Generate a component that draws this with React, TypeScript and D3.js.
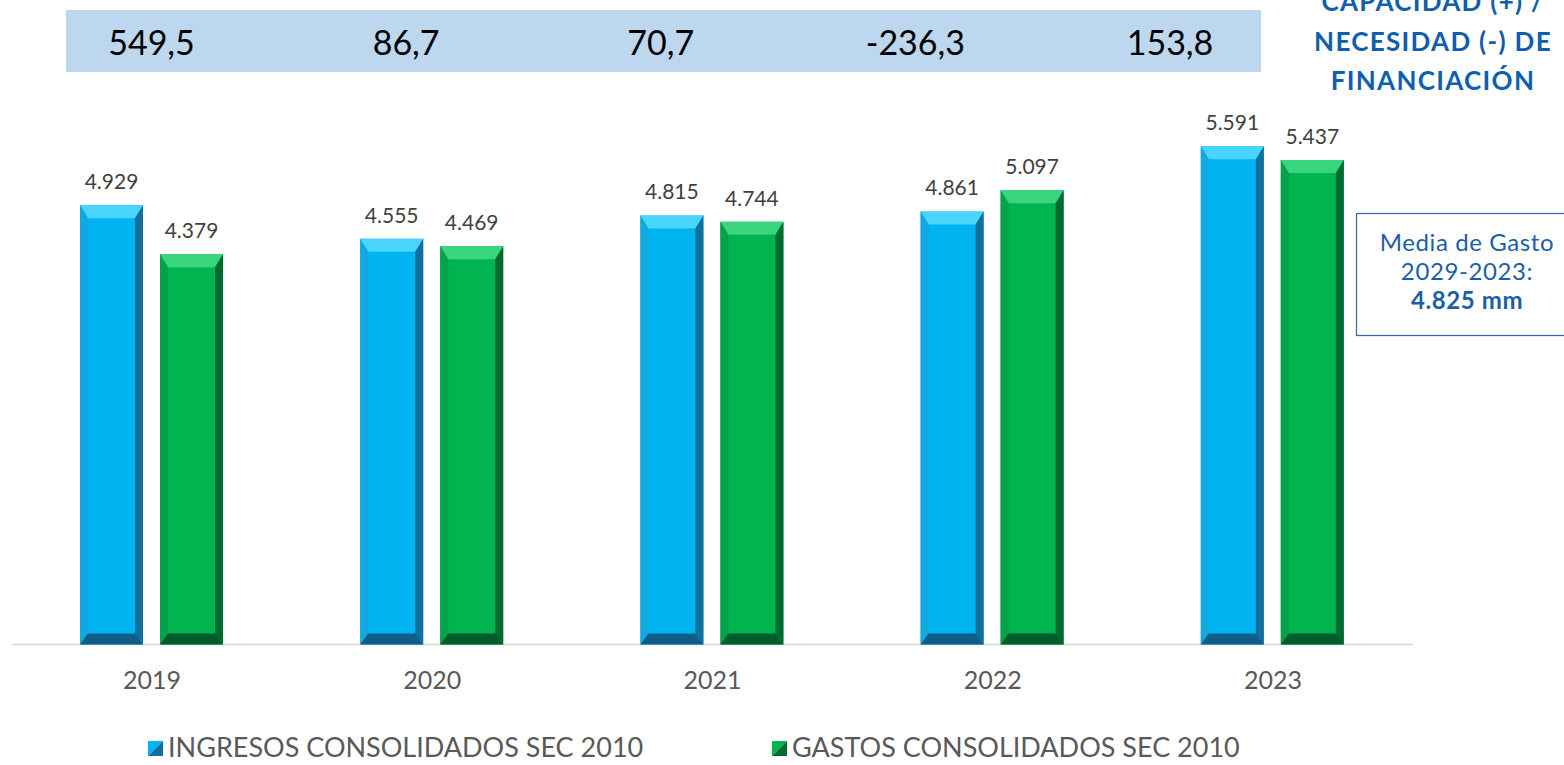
import React, { useRef, useEffect } from 'react';
import * as d3 from 'd3';

// chart data
const years = ['2019', '2020', '2021', '2022', '2023'];
const ingresos = [4929, 4555, 4815, 4861, 5591];
const gastos = [4379, 4469, 4744, 5097, 5437];
const capacidad = ['549,5', '86,7', '70,7', '-236,3', '153,8'];
const seriesNames = ['INGRESOS CONSOLIDADOS SEC 2010', 'GASTOS CONSOLIDADOS SEC 2010'];
const titleLines = ['CAPACIDAD (+) /', 'NECESIDAD (-) DE', 'FINANCIACIÓN'];
const mediaLines = ['Media de Gasto', '2029-2023:', '4.825 mm'];

const config = {
    w: 1564,
    h: 765,
    font: 'Lato, "Open Sans", sans-serif',
    baseY: 644.5,
    axisX0: 12,
    axisX1: 1413
};

// bevel palettes: face, top, left, right, bottom
const palettes = [
    { face: '#00b4f1', top: '#4ad5ff', left: '#12a7de', right: '#136f9b', bottom: '#0d5d86', mark: '#0f6da0' },
    { face: '#00b450', top: '#3ad67f', left: '#06a24b', right: '#006a31', bottom: '#005c2a', mark: '#006b30' }
];

const fmt = (v: number) => d3.format(',')(v).replace(/,/g, '.');

export default function App() {
    const svgRef = useRef<SVGSVGElement>(null);

    useEffect(() => {
        const svg = d3.select(svgRef.current)
            .attr('width', config.w)
            .attr('height', config.h);
        svg.selectAll('*').remove();

        const x0 = d3.scaleBand().domain(years).range([config.axisX0, config.axisX1]);
        const x1 = d3.scaleBand().domain(['0', '1']).range([68, 211]).paddingInner(0.2125);
        const y = d3.scaleLinear().domain([0, 6000]).range([config.baseY, config.baseY - 534.6]);

        // top strip with capacity / need figures
        svg.append('rect')
            .attr('x', 66).attr('y', 10)
            .attr('width', 1195).attr('height', 62)
            .attr('fill', '#bdd7ee');
        const xs = d3.scalePoint().domain(years).range([151.5, 1170]);
        svg.selectAll('text.cap')
            .data(capacidad)
            .join('text')
            .attr('class', 'cap')
            .attr('x', (d, i) => xs(years[i])!)
            .attr('y', 55)
            .attr('text-anchor', 'middle')
            .attr('font-family', config.font)
            .attr('font-size', 34)
            .attr('fill', '#000')
            .text(d => d);

        // title at right (top line is cropped in the original too)
        svg.selectAll('text.title')
            .data(titleLines)
            .join('text')
            .attr('class', 'title')
            .attr('x', 1433)
            .attr('y', (d, i) => 11 + i * 39.5)
            .attr('text-anchor', 'middle')
            .attr('font-family', config.font)
            .attr('font-weight', 700)
            .attr('font-size', 26)
            .attr('letter-spacing', 1.3)
            .attr('fill', '#0e5fae')
            .text(d => d);

        // axis line
        svg.append('line')
            .attr('x1', config.axisX0).attr('x2', config.axisX1)
            .attr('y1', config.baseY).attr('y2', config.baseY)
            .attr('stroke', '#d9d9d9').attr('stroke-width', 1.5);

        // bevelled bars
        const bars: { year: string; s: number; v: number }[] = [];
        years.forEach((yr, i) => {
            bars.push({ year: yr, s: 0, v: ingresos[i] });
            bars.push({ year: yr, s: 1, v: gastos[i] });
        });

        const bw = x1.bandwidth();
        const bt = 13, bs = 8, bb = 11;
        const g = svg.append('g');
        bars.forEach(d => {
            const left = x0(d.year)! + x1(String(d.s))!;
            const right = left + bw;
            const top = y(d.v);
            const bot = y(0);
            const p = palettes[d.s];
            const bar = g.append('g');
            const poly = (pts: number[][], fill: string) =>
                bar.append('polygon').attr('points', pts.map(q => q.join(',')).join(' ')).attr('fill', fill);
            poly([[left, top], [right, top], [right, bot], [left, bot]], p.face);
            poly([[left, top], [right, top], [right - bs, top + bt], [left + bs, top + bt]], p.top);
            poly([[left, top], [left + bs, top + bt], [left + bs, bot - bb], [left, bot]], p.left);
            poly([[right, top], [right, bot], [right - bs, bot - bb], [right - bs, top + bt]], p.right);
            poly([[left, bot], [left + bs, bot - bb], [right - bs, bot - bb], [right, bot]], p.bottom);

            bar.append('text')
                .attr('x', left + bw / 2)
                .attr('y', top - 16)
                .attr('text-anchor', 'middle')
                .attr('font-family', config.font)
                .attr('font-size', 21)
                .attr('fill', '#404040')
                .text(fmt(d.v));
        });

        // year labels
        svg.selectAll('text.year')
            .data(years)
            .join('text')
            .attr('class', 'year')
            .attr('x', d => x0(d)! + x0.bandwidth() / 2)
            .attr('y', 689)
            .attr('text-anchor', 'middle')
            .attr('font-family', config.font)
            .attr('font-size', 25)
            .attr('fill', '#595959')
            .text(d => d);

        // media de gasto box
        svg.append('rect')
            .attr('x', 1356.5).attr('y', 213.5)
            .attr('width', 220).attr('height', 122)
            .attr('fill', '#fff')
            .attr('stroke', '#2e67ae').attr('stroke-width', 1.2);
        svg.selectAll('text.media')
            .data(mediaLines)
            .join('text')
            .attr('class', 'media')
            .attr('x', 1467)
            .attr('y', (d, i) => 251 + i * 29)
            .attr('text-anchor', 'middle')
            .attr('font-family', config.font)
            .attr('font-size', 24)
            .attr('letter-spacing', 0.6)
            .attr('font-weight', (d, i) => (i === 2 ? 700 : 400))
            .attr('fill', '#1a5ea8')
            .text(d => d);

        // legend
        const lx = [148, 772];
        seriesNames.forEach((name, i) => {
            const p = palettes[i];
            const lg = svg.append('g').attr('transform', `translate(${lx[i]},741)`);
            lg.append('polygon').attr('points', '0,0 15,0 0,15').attr('fill', p.face);
            lg.append('polygon').attr('points', '15,0 15,15 0,15').attr('fill', p.mark);
            lg.append('text')
                .attr('x', 20)
                .attr('y', 16)
                .attr('font-family', config.font)
                .attr('font-size', 27)
                .attr('fill', '#595959')
                .text(name);
        });
    }, []);

    return (
        <svg ref={svgRef} style={{ position: 'absolute', left: 0, top: 0 }}></svg>
    );
}
